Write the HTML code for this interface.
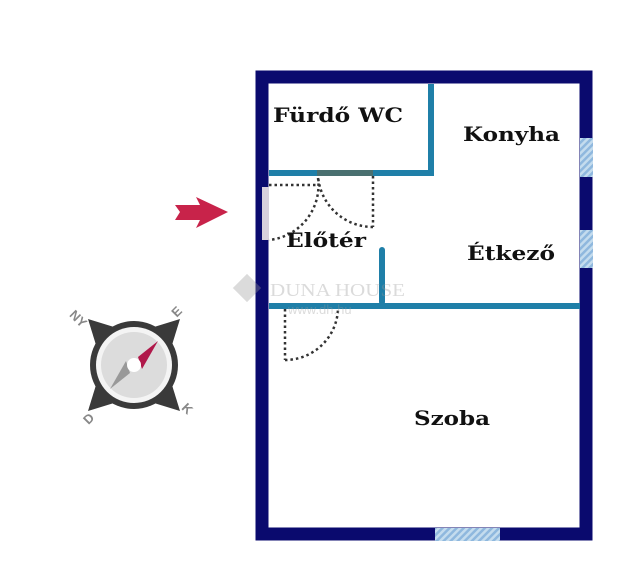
<!DOCTYPE html>
<html><head><meta charset="utf-8"><style>
html,body{margin:0;padding:0;background:#fff;}
svg{display:block}
text.l{font-family:"DejaVu Serif","Liberation Serif",serif;font-weight:bold;font-size:20px;fill:#111}
</style></head><body>
<svg width="640" height="587" viewBox="0 0 640 587" xmlns="http://www.w3.org/2000/svg">
<defs>
<pattern id="h" width="5" height="5" patternUnits="userSpaceOnUse" patternTransform="rotate(45)">
<rect width="5" height="5" fill="#c4dcee"/><rect width="2.5" height="5" fill="#8fb8de"/>
</pattern>
</defs>
<rect width="640" height="587" fill="#fff"/>
<rect x="262" y="77" width="324" height="457" fill="none" stroke="#0a0a6e" stroke-width="13"/>
<rect x="580" y="138" width="13" height="39" fill="url(#h)"/>
<rect x="580" y="230" width="13" height="38" fill="url(#h)"/>
<rect x="435" y="528" width="65" height="13" fill="url(#h)"/>
<rect x="262" y="187" width="7" height="53" fill="#d8d0dc"/>
<g fill="#1f7fa8">
<rect x="428" y="84" width="6" height="92"/>
<rect x="269" y="170" width="165" height="6"/>
<rect x="269" y="303" width="311" height="6"/>
<rect x="379" y="247" width="6" height="58" rx="3"/>
</g>
<rect x="317" y="170" width="56" height="6" fill="#4a7070"/>
<g fill="none" stroke="#333" stroke-width="2.5" stroke-dasharray="2.5 3">
<path d="M373 176 V227"/>
<path d="M373 227 A55 55 0 0 1 318 176"/>
<path d="M269 185 H318"/>
<path d="M318 178 A55 55 0 0 1 269 240"/>
<path d="M285 309 V360"/>
<path d="M285 360 A53 53 0 0 0 338 309"/>
</g>
<g opacity="0.35">
<rect x="237" y="278" width="20" height="20" fill="#999" transform="rotate(45 247 288)"/>
<text x="270" y="296" font-family="Liberation Serif,serif" font-size="18" fill="#999" textLength="135" lengthAdjust="spacingAndGlyphs">DUNA HOUSE</text>
<text x="288" y="314" font-family="Liberation Sans,sans-serif" font-size="13" fill="#999">www.dh.hu</text>
</g>
<text class="l" x="273" y="122" textLength="130" lengthAdjust="spacingAndGlyphs">Fürdő WC</text>
<text class="l" x="463" y="141" textLength="97" lengthAdjust="spacingAndGlyphs">Konyha</text>
<text class="l" x="286" y="247" textLength="80" lengthAdjust="spacingAndGlyphs">Előtér</text>
<text class="l" x="467" y="260" textLength="88" lengthAdjust="spacingAndGlyphs">Étkező</text>
<text class="l" x="414" y="425" textLength="76" lengthAdjust="spacingAndGlyphs">Szoba</text>
<polygon points="175,205 200,205 196,197 228,212 196,228 200,220 175,220 180,212" fill="#c8234a"/>
<g transform="translate(134,365)">
<g fill="#3a3a3a">
<polygon points="-46,-46 -20,-38 -38,-20"/>
<polygon points="46,-46 20,-38 38,-20"/>
<polygon points="46,46 20,38 38,20"/>
<polygon points="-46,46 -20,38 -38,20"/>
</g>
<circle r="44" fill="#3a3a3a"/>
<circle r="38" fill="#f4f4f4"/>
<circle r="33" fill="#dcdcdc"/>
<polygon points="24,-24 4,-8 8,4" fill="#b0184a"/>
<polygon points="-24,24 -4,8 -8,-4" fill="#999"/>
<circle r="7" fill="#fff"/>
<g font-family="Liberation Sans,sans-serif" font-weight="bold" font-size="13" fill="#888" text-anchor="middle">
<text x="-56" y="-42" transform="rotate(45 -56 -46)">NY</text>
<text x="43" y="-49" transform="rotate(-45 43 -53)">E</text>
<text x="53" y="48" transform="rotate(45 53 44)">K</text>
<text x="-45" y="58" transform="rotate(-45 -45 54)">D</text>
</g>
</g>
</svg>
</body></html>
